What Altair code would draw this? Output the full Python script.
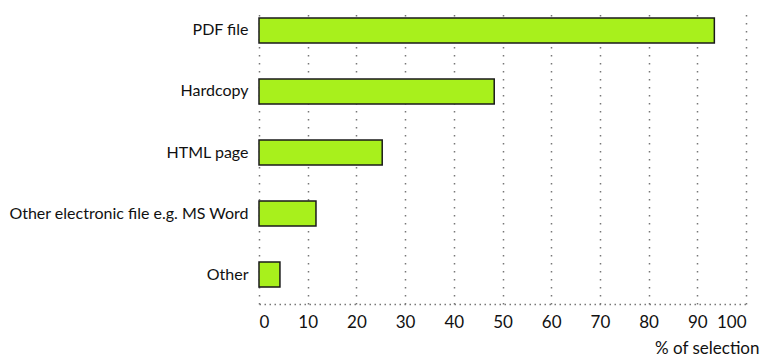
import altair as alt
import pandas as pd

categories = ["PDF file", "Hardcopy", "HTML page", "Other electronic file e.g. MS Word", "Other"]
values = [93.5, 48.3, 25.3, 11.7, 4.3]

df = pd.DataFrame({"format": categories, "pct": values})

FONT = "Lato"

chart = alt.Chart(df).mark_bar(
    color="#a8f01c", stroke="#1a1a1a", strokeWidth=1.5
).encode(
    x=alt.X("pct:Q",
            scale=alt.Scale(domain=[0, 100], nice=False),
            axis=alt.Axis(values=list(range(0, 101, 10)), title="% of selection",
                          grid=True, gridColor="#777777", gridDash=[1.5, 6.5], gridWidth=1.5,
                          domain=True, domainColor="#777777", domainDash=[1.5, 3.5], domainWidth=1.5,
                          ticks=False, labelPadding=10, labelFontSize=17, labelFont=FONT,
                          labelColor="#111111",
                          titleFont=FONT, titleFontSize=17, titleFontWeight="normal",
                          titleColor="#111111", titleAlign="right", titleX=500, titleY=49,
                          titleBaseline="alphabetic")),
    y=alt.Y("format:N", sort=categories,
            scale=alt.Scale(paddingInner=0.59, paddingOuter=0.22, align=0.37),
            axis=alt.Axis(title=None, domain=False, ticks=False, labelPadding=11,
                          labelFontSize=16, labelFont=FONT, labelColor="#111111",
                          labelLimit=400)),
).properties(
    width=487, height=296,
    autosize=alt.AutoSizeParams(type="none"),
    padding={"left": 251, "top": 0, "right": 14, "bottom": 55},
).configure_view(stroke=None)

chart.save("out.html", embed_options={"renderer": "svg", "actions": False})
